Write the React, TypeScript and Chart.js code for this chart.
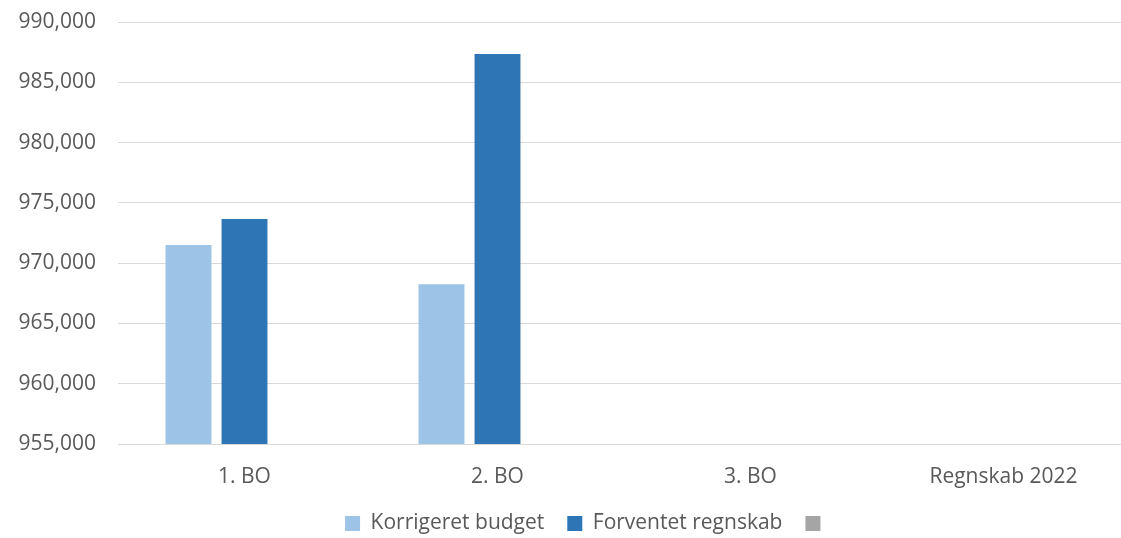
import React, { useEffect, useRef } from "react";
import { Chart, registerables } from "chart.js";

Chart.register(...registerables);

const categories = ["1. BO", "2. BO", "3. BO", "Regnskab 2022"];
const korrigeretBudget = [971500, 968250, null, null];
const forventetRegnskab = [973670, 987350, null, null];
const tredjeSerie = [null, null, null, null];
const seriesNames = ["Korrigeret budget", "Forventet regnskab", ""];
const yMin = 955000;
const yMax = 990000;
const yStep = 5000;

const FONT = "'Open Sans', 'Noto Sans', sans-serif";
const TEXT = "#595959";

const legendShift = {
  id: "legendShift",
  afterLayout(chart: any) {
    if (chart.legend) {
      chart.legend.left += 46;
    }
  },
};

export default function App() {
  const ref = useRef<HTMLCanvasElement | null>(null);

  useEffect(() => {
    if (!ref.current) return;
    const chart = new Chart(ref.current, {
      type: "bar",
      data: {
        labels: categories,
        datasets: [
          { label: seriesNames[0], data: korrigeretBudget, backgroundColor: "#9DC3E6" },
          { label: seriesNames[1], data: forventetRegnskab, backgroundColor: "#2E75B6" },
          { label: seriesNames[2], data: tredjeSerie, backgroundColor: "#A5A5A5" },
        ],
      },
      plugins: [legendShift],
      options: {
        animation: false,
        responsive: true,
        maintainAspectRatio: false,
        layout: { padding: { top: 0, left: 0, right: 0, bottom: 0 } },
        datasets: {
          bar: { categoryPercentage: 0.664, barPercentage: 0.82 },
        },
        plugins: {
          tooltip: { enabled: false },
          legend: {
            position: "bottom",
            labels: {
              color: TEXT,
              font: { family: FONT, size: 21 },
              boxWidth: 15,
              boxHeight: 15,
              padding: 23,
            },
          },
        },
        scales: {
          x: {
            grid: { display: false, drawTicks: false },
            border: { display: true, color: "#d9d9d9", width: 1 },
            ticks: { color: TEXT, font: { family: FONT, size: 21 }, padding: 20 },
            afterFit: (s: any) => {
              s.height = 46;
            },
          },
          y: {
            min: yMin,
            max: yMax,
            grid: { color: "#d9d9d9", lineWidth: 1, drawTicks: false },
            border: { display: false },
            ticks: {
              stepSize: yStep,
              color: TEXT,
              font: { family: FONT, size: 21 },
              padding: 22,
              callback: (v: any) => Number(v).toLocaleString("en-US"),
            },
            afterFit: (s: any) => {
              s.width = 118;
              s.paddingTop = 22;
              s.paddingBottom = 0;
            },
          },
        },
      },
    });
    return () => chart.destroy();
  }, []);

  return (
    <div
      style={{
        position: "fixed",
        left: 0,
        top: 0,
        width: 1121,
        height: 538,
        overflow: "hidden",
        background: "#fff",
      }}
    >
      <div style={{ position: "absolute", left: 0, top: 0, width: 1130, height: 544 }}>
        <canvas ref={ref} />
      </div>
    </div>
  );
}
